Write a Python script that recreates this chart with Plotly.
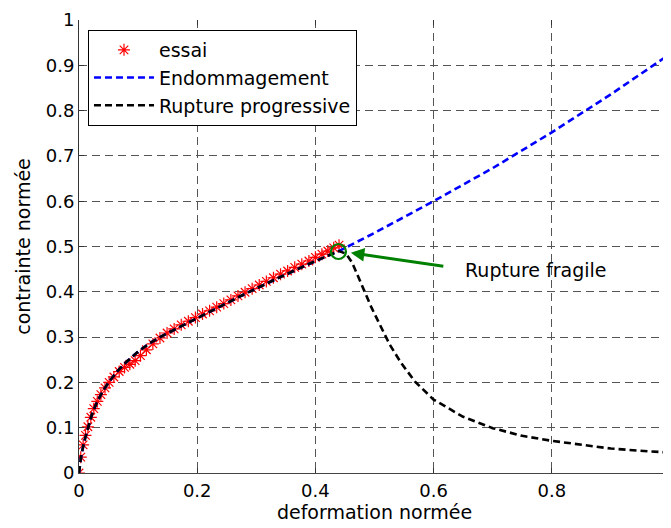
import plotly.graph_objects as go

# ---------------- data ----------------
essai_x = [0, 0.003, 0.007, 0.011, 0.015, 0.020, 0.025, 0.031, 0.037, 0.044,
           0.051, 0.059, 0.068, 0.077, 0.086, 0.095, 0.104, 0.114, 0.125, 0.137,
           0.149, 0.161, 0.173, 0.185, 0.197, 0.209, 0.221, 0.233, 0.245, 0.257,
           0.269, 0.281, 0.293, 0.305, 0.317, 0.329, 0.341, 0.353, 0.365, 0.377,
           0.389, 0.400, 0.411, 0.421, 0.431, 0.440]
essai_y = [0, 0.035, 0.062, 0.083, 0.102, 0.123, 0.142, 0.158, 0.173, 0.188,
           0.200, 0.212, 0.224, 0.233, 0.240, 0.248, 0.259, 0.272, 0.285, 0.298,
           0.309, 0.318, 0.327, 0.335, 0.343, 0.351, 0.358, 0.366, 0.374, 0.382,
           0.391, 0.399, 0.407, 0.415, 0.423, 0.431, 0.439, 0.446, 0.454, 0.461,
           0.468, 0.476, 0.483, 0.490, 0.497, 0.503]

fit_x = [0, 0.004, 0.009, 0.015, 0.022, 0.030, 0.040, 0.050, 0.065, 0.080,
         0.100, 0.120, 0.140, 0.170, 0.200, 0.240, 0.288, 0.340, 0.390, 0.440]
fit_y = [0, 0.040, 0.070, 0.100, 0.130, 0.155, 0.180, 0.200, 0.225, 0.245,
         0.268, 0.287, 0.302, 0.322, 0.342, 0.368, 0.400, 0.432, 0.462, 0.490]

endo_x = [0.50, 0.60, 0.70, 0.80, 0.90, 1.00]
endo_y = [0.530, 0.600, 0.673, 0.752, 0.836, 0.925]

rupt_x = [0.452, 0.462, 0.472, 0.482, 0.495, 0.510, 0.526, 0.545, 0.569, 0.600,
          0.650, 0.700, 0.750, 0.800, 0.850, 0.900, 0.950, 1.000]
rupt_y = [0.484, 0.465, 0.435, 0.402, 0.365, 0.325, 0.283, 0.243, 0.201, 0.162,
          0.124, 0.099, 0.082, 0.071, 0.062, 0.054, 0.049, 0.045]

frag_point = (0.439, 0.489)
arrow_tail = (0.619, 0.456)
arrow_head = (0.460, 0.486)
label_pos = (0.650, 0.4475)

x_ticks = [0, 0.2, 0.4, 0.6, 0.8, 1]
y_ticks = [0, 0.1, 0.2, 0.3, 0.4, 0.5, 0.6, 0.7, 0.8, 0.9, 1]

FONT = "DejaVu Sans"

fig = go.Figure()

fig.add_trace(go.Scatter(
    x=essai_x, y=essai_y, mode="markers", name="essai",
    legendgroup="a",
    marker=dict(symbol="asterisk-open", size=10, color="red",
                line=dict(color="red", width=1.2)),
))
fig.add_trace(go.Scatter(
    x=fit_x + endo_x, y=fit_y + endo_y, mode="lines", name="Endommagement",
    legendgroup="b",
    line=dict(color="blue", width=2.6, dash="7px,4px"),
))
fig.add_trace(go.Scatter(
    x=fit_x + rupt_x, y=fit_y + rupt_y, mode="lines", name="Rupture progressive",
    legendgroup="c",
    line=dict(color="black", width=2.6, dash="7px,4px"),
))
fig.add_trace(go.Scatter(
    x=[frag_point[0]], y=[frag_point[1]], mode="markers", showlegend=False,
    marker=dict(symbol="circle-open", size=15, color="green",
                line=dict(color="green", width=2.2)),
))
# invisible trace on top axis for mirrored ticks
fig.add_trace(go.Scatter(x=[0, 1], y=[0, 0], xaxis="x2", mode="lines",
                         line=dict(width=0), showlegend=False, hoverinfo="skip"))

fig.add_annotation(
    x=arrow_head[0], y=arrow_head[1], ax=arrow_tail[0], ay=arrow_tail[1],
    xref="x", yref="y", axref="x", ayref="y", text="",
    showarrow=True, arrowhead=2, arrowsize=0.9, arrowwidth=3, arrowcolor="green",
)
fig.add_annotation(
    x=label_pos[0], y=label_pos[1], xref="x", yref="y", text="Rupture fragile",
    showarrow=False, xanchor="left", yanchor="middle",
    font=dict(family=FONT, size=19, color="black"),
)

grid = dict(showgrid=True, gridcolor="#555555", gridwidth=1, griddash="8px,5px")

# the page body has an 8px margin, so the figure is sized/offset to compensate
fig.update_layout(
    width=663, height=520,
    margin=dict(l=71, r=1, t=12, b=55, autoexpand=False),
    paper_bgcolor="white", plot_bgcolor="white",
    font=dict(family=FONT, size=18, color="black"),
    showlegend=True,
    legend=dict(
        x=0.0152, y=0.978, xanchor="left", yanchor="top",
        bgcolor="white", bordercolor="black", borderwidth=1,
        font=dict(family=FONT, size=19, color="black"),
        itemwidth=60, tracegroupgap=0,
    ),
    xaxis=dict(
        range=[0, 1], tickvals=x_ticks, ticktext=[str(v) for v in x_ticks],
        ticks="inside", ticklen=5, tickcolor="#333333", automargin=False,
        showline=True, linecolor="#444444", linewidth=1, zeroline=False,
        ticklabelstandoff=1, ticklabeloverflow="allow",
        title=dict(text="deformation normée", font=dict(size=19), standoff=3),
        **grid,
    ),
    xaxis2=dict(
        range=[0, 1], overlaying="x", side="top", tickvals=x_ticks,
        ticks="inside", ticklen=5, tickcolor="#333333", automargin=False,
        showticklabels=False, showgrid=False, showline=False, zeroline=False,
    ),
    yaxis=dict(
        range=[0, 1], tickvals=y_ticks, ticktext=[str(v) for v in y_ticks],
        ticks="inside", ticklen=5, tickcolor="#333333", automargin=False,
        showline=True, linecolor="#333333", linewidth=1, zeroline=False,
        ticklabeloverflow="allow",
        title=dict(text="contrainte normée", font=dict(size=19), standoff=10),
        **grid,
    ),
)

fig.write_html("out.html")
